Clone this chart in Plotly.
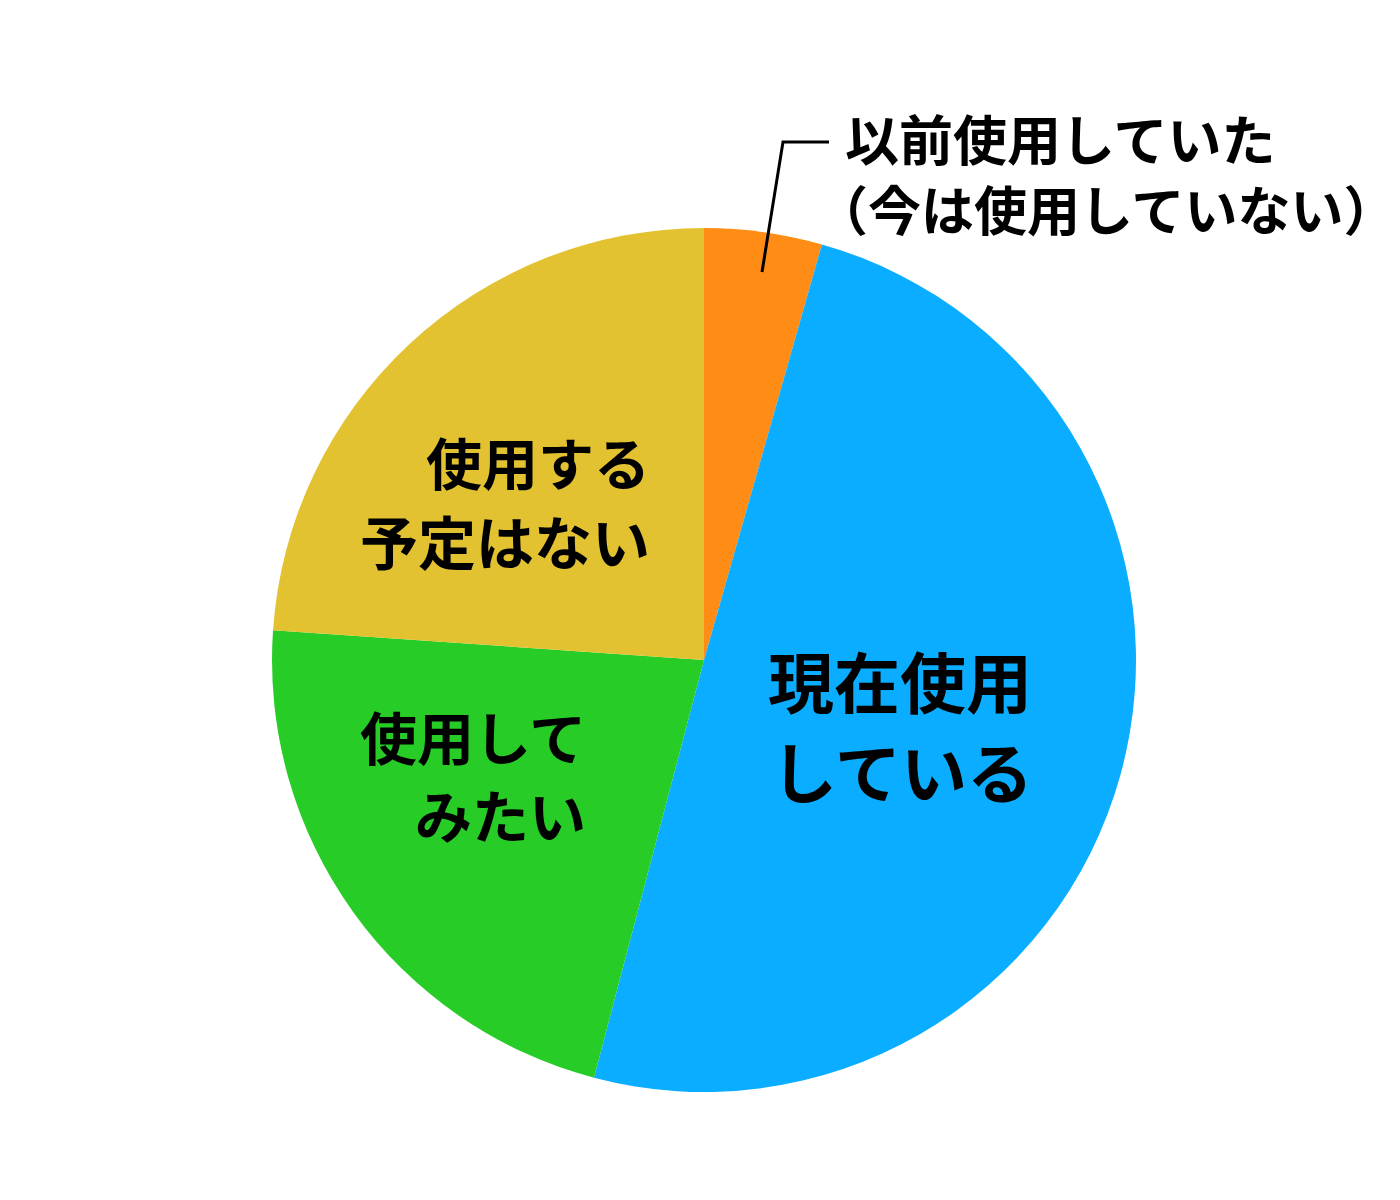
import plotly.graph_objects as go

# 利用状況の割合（%）、12時の位置から時計回り
categories = ["以前使用していた（今は使用していない）", "現在使用している", "使用してみたい", "使用する予定はない"]
values = [4.4, 49.7, 22.0, 23.9]
colors = ["#FF8C14", "#0AADFF", "#27CC27", "#E2C230"]

# ラベルの行分け
label_lines = [
    ["以前使用していた", "（今は使用していない）"],
    ["現在使用", "している"],
    ["使用して", "みたい"],
    ["使用する", "予定はない"],
]

W, H = 1400, 1200
OFF = 8  # ページ余白の補正
FONT = "Noto Sans CJK JP"

fig = go.Figure(go.Pie(
    labels=categories,
    values=values,
    marker=dict(colors=colors, line=dict(width=0)),
    sort=False,
    direction="clockwise",
    rotation=0,
    textinfo="none",
    hoverinfo="label+percent",
    showlegend=False,
    domain=dict(x=[(272 - OFF) / W, (1136 - OFF) / W],
                y=[(108 + OFF) / H, (972 + OFF) / H]),
))


def px(x, y):
    return (x - OFF) / W, 1 - (y - OFF) / H


# 各ラベルの配置（ピクセル座標）：(x, y, xanchor, フォントサイズ)
placements = [
    [(843, 137, "left", 54), (813, 208, "left", 53)],
    [(900, 679, "center", 66), (902, 769, "center", 66)],
    [(588, 735, "right", 57), (588, 813, "right", 57)],
    [(652, 460, "right", 56), (652, 540, "right", 58)],
]

annotations = []
for lines, places in zip(label_lines, placements):
    for text, (x, y, anchor, size) in zip(lines, places):
        ax, ay = px(x, y)
        annotations.append(dict(
            x=ax, y=ay, xref="paper", yref="paper",
            text=f"<b>{text}</b>", showarrow=False,
            xanchor=anchor, yanchor="middle",
            font=dict(family=FONT, size=size, color="black"),
        ))

# 引き出し線
x0, y0 = px(762, 272)
x1, y1 = px(783, 142)
x2, y2 = px(829, 142)
fig.add_shape(type="path", xref="paper", yref="paper",
              path=f"M {x0},{y0} L {x1},{y1} L {x2},{y2}",
              line=dict(color="black", width=3))

fig.update_layout(
    width=W, height=H,
    margin=dict(l=0, r=0, t=0, b=0),
    paper_bgcolor="white",
    plot_bgcolor="white",
    annotations=annotations,
)

fig.write_html("out.html")
